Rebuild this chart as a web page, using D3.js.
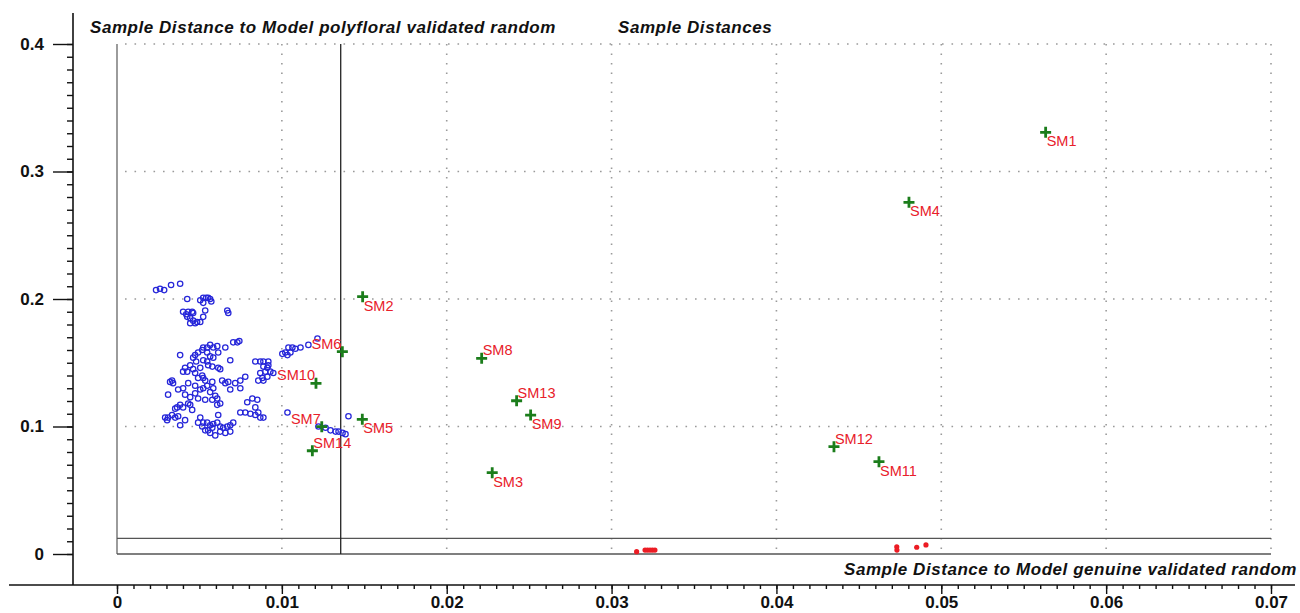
<!DOCTYPE html>
<html>
<head>
<meta charset="utf-8">
<script src="https://cdn.jsdelivr.net/npm/d3@7/dist/d3.min.js"></script>
<style>
  body { margin: 0; background: #fff; }
  svg { display: block; font-family: "Liberation Sans", Arial, sans-serif; }
</style>
</head>
<body>
<svg id="chart" width="1300" height="613"></svg>
<script>
// tick labels
const xTicks = [0, 0.01, 0.02, 0.03, 0.04, 0.05, 0.06, 0.07];
const yTicks = [0, 0.1, 0.2, 0.3, 0.4];

// critical distances of the two models
const polyfloralLimit = 0.01357;
const genuineLimit = 0.0122;

// polyfloral validation samples (open blue circles)
const polyX = [
  0.00237, 0.00261, 0.00286, 0.00328, 0.00383, 0.00426, 0.00505, 0.00523, 0.00541, 0.00553,
  0.00565, 0.00523, 0.00572, 0.00401, 0.00420, 0.00432, 0.00456, 0.00462, 0.00426, 0.00444,
  0.00462, 0.00486, 0.00444, 0.00474, 0.00505, 0.00523, 0.00535, 0.00669, 0.00675, 0.00730,
  0.00742, 0.00657, 0.00608, 0.00584, 0.00565, 0.00547, 0.00523, 0.00517, 0.00492, 0.00474,
  0.00462, 0.00547, 0.00565, 0.00584, 0.00614, 0.00523, 0.00547, 0.00553, 0.00578, 0.00614,
  0.00413, 0.00462, 0.00505, 0.00839, 0.00401, 0.00426, 0.00474, 0.00517, 0.00492, 0.00523,
  0.00626, 0.00322, 0.00340, 0.00334, 0.00401, 0.00310, 0.00413, 0.00444, 0.00474, 0.00505,
  0.00523, 0.00547, 0.00578, 0.00584, 0.00565, 0.00596, 0.00608, 0.00638, 0.00657, 0.00675,
  0.00687, 0.00717, 0.00748, 0.00778, 0.00626, 0.00608, 0.00578, 0.00365, 0.00383, 0.00401,
  0.00432, 0.00444, 0.00353, 0.00292, 0.00310, 0.00334, 0.00353, 0.00371, 0.00304, 0.00505,
  0.00523, 0.00547, 0.00565, 0.00584, 0.00608, 0.00626, 0.00644, 0.00669, 0.00687, 0.00705,
  0.00614, 0.00492, 0.00517, 0.00535, 0.00553, 0.00578, 0.00626, 0.00657, 0.00565, 0.00748,
  0.00778, 0.00809, 0.00839, 0.00790, 0.00821, 0.00851, 0.00839, 0.01216, 0.01003, 0.01021,
  0.01040, 0.01064, 0.01082, 0.01113, 0.01161, 0.01034, 0.01052, 0.00869, 0.00888, 0.00918,
  0.00888, 0.00912, 0.00930, 0.00900, 0.00869, 0.00882, 0.00857, 0.00888, 0.00912, 0.00948,
  0.00918, 0.00857, 0.00888, 0.00869, 0.01034, 0.01222, 0.01265, 0.01295, 0.01326, 0.01344,
  0.01368, 0.01386, 0.01404, 0.00705, 0.00480, 0.00444, 0.00535, 0.00474, 0.00432, 0.00492,
  0.00535, 0.00456, 0.00413, 0.00383, 0.00596, 0.00687, 0.00383, 0.00687, 0.00748, 0.00371
];
const polyY = [
  0.207, 0.208, 0.207, 0.211, 0.212, 0.200, 0.199, 0.201, 0.201, 0.201,
  0.200, 0.197, 0.198, 0.190, 0.188, 0.190, 0.190, 0.189, 0.186, 0.185,
  0.183, 0.182, 0.181, 0.181, 0.182, 0.186, 0.191, 0.191, 0.189, 0.166,
  0.167, 0.162, 0.163, 0.162, 0.164, 0.162, 0.162, 0.160, 0.158, 0.156,
  0.154, 0.158, 0.155, 0.154, 0.158, 0.152, 0.151, 0.148, 0.147, 0.146,
  0.146, 0.145, 0.146, 0.151, 0.143, 0.143, 0.142, 0.140, 0.138, 0.138,
  0.145, 0.135, 0.134, 0.136, 0.130, 0.125, 0.125, 0.123, 0.126, 0.129,
  0.130, 0.132, 0.135, 0.130, 0.127, 0.124, 0.122, 0.136, 0.134, 0.135,
  0.129, 0.134, 0.136, 0.139, 0.118, 0.117, 0.121, 0.115, 0.117, 0.115,
  0.118, 0.117, 0.114, 0.107, 0.107, 0.109, 0.107, 0.108, 0.105, 0.107,
  0.103, 0.103, 0.101, 0.102, 0.103, 0.100, 0.099, 0.100, 0.101, 0.103,
  0.109, 0.103, 0.100, 0.097, 0.097, 0.099, 0.096, 0.095, 0.095, 0.111,
  0.111, 0.110, 0.109, 0.119, 0.122, 0.121, 0.115, 0.169, 0.157, 0.158,
  0.162, 0.162, 0.161, 0.162, 0.164, 0.156, 0.158, 0.151, 0.151, 0.151,
  0.147, 0.146, 0.143, 0.143, 0.142, 0.138, 0.136, 0.136, 0.139, 0.142,
  0.148, 0.111, 0.107, 0.107, 0.111, 0.100, 0.099, 0.097, 0.096, 0.096,
  0.095, 0.094, 0.108, 0.166, 0.151, 0.148, 0.136, 0.132, 0.134, 0.122,
  0.121, 0.113, 0.105, 0.101, 0.093, 0.096, 0.156, 0.152, 0.130, 0.129
];

// genuine validation samples (red dots)
const genuineX = [0.03152, 0.03203, 0.03218, 0.03233, 0.03248, 0.03263, 0.04730, 0.04731, 0.04851, 0.04907];
const genuineY = [0.0018, 0.0031, 0.0031, 0.0031, 0.0031, 0.0031, 0.0057, 0.0031, 0.0053, 0.0071];

// market samples (green crosses)
const sampleNames = ['SM1', 'SM2', 'SM3', 'SM4', 'SM5', 'SM6', 'SM7', 'SM8', 'SM9', 'SM10', 'SM11', 'SM12', 'SM13', 'SM14'];
const sampleX = [0.05633, 0.01490, 0.02276, 0.04804, 0.01488, 0.01367, 0.01242, 0.02212, 0.02509, 0.01207, 0.04622, 0.04349, 0.02424, 0.01185];
const sampleY = [0.3307, 0.2018, 0.0638, 0.2758, 0.1056, 0.1587, 0.0999, 0.1535, 0.1090, 0.1339, 0.0724, 0.0842, 0.1202, 0.0810];

// where each label sits relative to its cross
const labelSide = { SM6: 'tl', SM10: 'tl', SM7: 'tl', SM8: 'tr', SM13: 'tr', SM14: 'tr', SM12: 'tr' };

const svg = d3.select('#chart');
const x = d3.scaleLinear().domain([0, 0.07]).range([117, 1271]);
const y = d3.scaleLinear().domain([0, 0.4]).range([554, 44]);

svg.append('rect').attr('width', 1300).attr('height', 613).attr('fill', '#fff');

// dotted grid
const grid = svg.append('g')
  .attr('stroke', '#9a9a9a')
  .attr('stroke-width', 1.6)
  .attr('stroke-dasharray', '1.6 7.9');
grid.selectAll('line.v')
  .data(xTicks.slice(1))
  .join('line')
  .attr('class', 'v')
  .attr('x1', (d) => x(d)).attr('x2', (d) => x(d))
  .attr('y1', y(0.4)).attr('y2', y(0));
grid.selectAll('line.h')
  .data(yTicks.slice(1))
  .join('line')
  .attr('class', 'h')
  .attr('x1', x(0) + 8).attr('x2', x(0.07))
  .attr('y1', (d) => y(d)).attr('y2', (d) => y(d));

// plot frame + model limits
const frame = svg.append('g').attr('fill', 'none').attr('stroke-width', 1.3);
frame.append('line')
  .attr('x1', x(0)).attr('x2', x(0)).attr('y1', y(0.4)).attr('y2', y(0))
  .attr('stroke', '#666');
frame.append('line')
  .attr('x1', x(0)).attr('x2', x(0.07)).attr('y1', y(0)).attr('y2', y(0))
  .attr('stroke', '#555');
frame.append('line')
  .attr('x1', x(0)).attr('x2', x(0.07)).attr('y1', y(genuineLimit)).attr('y2', y(genuineLimit))
  .attr('stroke', '#555');
frame.append('line')
  .attr('x1', x(polyfloralLimit)).attr('x2', x(polyfloralLimit)).attr('y1', y(0.4)).attr('y2', y(0))
  .attr('stroke', '#222');

// axes
const axisY = 585;
const axisX = 73;

const yMinor = d3.range(0, 41).map((i) => i / 100);
svg.append('g')
  .attr('transform', `translate(${axisX},0)`)
  .call(d3.axisLeft(y).tickValues(yMinor).tickSize(6).tickFormat(''))
  .call((g) => g.select('.domain').remove());
svg.append('g')
  .attr('class', 'y-axis')
  .attr('transform', `translate(${axisX},0)`)
  .call(d3.axisLeft(y).tickValues(yTicks).tickSize(20).tickPadding(9).tickFormat((d) => String(d)))
  .call((g) => g.select('.domain').remove());

const xMinor = d3.range(0, 71).map((i) => i / 1000);
svg.append('g')
  .attr('transform', `translate(0,${axisY})`)
  .call(d3.axisBottom(x).tickValues(xMinor).tickSize(4).tickFormat(''))
  .call((g) => g.select('.domain').remove());
svg.append('g')
  .attr('class', 'x-axis')
  .attr('transform', `translate(0,${axisY})`)
  .call(d3.axisBottom(x).tickValues(xTicks).tickSize(9).tickPadding(2).tickFormat((d) => String(d)))
  .call((g) => g.select('.domain').remove());

svg.selectAll('.tick line').attr('stroke', '#111').attr('stroke-width', 1.4);
svg.selectAll('.x-axis text, .y-axis text')
  .attr('fill', '#111')
  .style('font-size', '17px')
  .style('font-weight', 'bold')
  .style('font-family', '"Liberation Sans", Arial, sans-serif');

svg.append('line')
  .attr('x1', axisX).attr('x2', axisX).attr('y1', 13).attr('y2', axisY)
  .attr('stroke', '#111').attr('stroke-width', 1.6);
svg.append('line')
  .attr('x1', 9).attr('x2', 1295).attr('y1', axisY).attr('y2', axisY)
  .attr('stroke', '#111').attr('stroke-width', 1.6);

// titles
const titles = svg.append('g')
  .attr('fill', '#111')
  .style('font-size', '17px')
  .style('font-weight', 'bold')
  .style('font-style', 'italic')
  .style('letter-spacing', '0.55px');
titles.append('text').attr('x', 90).attr('y', 33)
  .text('Sample Distance to Model polyfloral validated random');
titles.append('text').attr('x', 618).attr('y', 33)
  .text('Sample Distances');
titles.append('text').attr('x', 1297).attr('y', 575).attr('text-anchor', 'end')
  .text('Sample Distance to Model genuine validated random');

// polyfloral circles
svg.append('g')
  .selectAll('circle')
  .data(d3.zip(polyX, polyY))
  .join('circle')
  .attr('cx', (d) => x(d[0]))
  .attr('cy', (d) => y(d[1]))
  .attr('r', 2.7)
  .attr('fill', 'none')
  .attr('stroke', '#2626d9')
  .attr('stroke-width', 1.25);

// genuine dots
svg.append('g')
  .selectAll('circle')
  .data(d3.zip(genuineX, genuineY))
  .join('circle')
  .attr('cx', (d) => x(d[0]))
  .attr('cy', (d) => y(d[1]))
  .attr('r', 2.6)
  .attr('fill', '#ec1c24');

// market samples
const samples = sampleNames.map((name, i) => ({ name, x: sampleX[i], y: sampleY[i] }));
const sm = svg.append('g');
sm.selectAll('path')
  .data(samples)
  .join('path')
  .attr('d', (d) => `M${x(d.x) - 5.5},${y(d.y)}H${x(d.x) + 5.5}M${x(d.x)},${y(d.y) - 5.5}V${y(d.y) + 5.5}`)
  .attr('stroke', '#1b7d1b')
  .attr('stroke-width', 2.8)
  .attr('fill', 'none');
sm.selectAll('text')
  .data(samples)
  .join('text')
  .attr('x', (d) => {
    const side = labelSide[d.name] || 'br';
    return side === 'tl' ? x(d.x) - 1 : x(d.x) + 1;
  })
  .attr('y', (d) => {
    const side = labelSide[d.name] || 'br';
    return side === 'br' ? y(d.y) + 14 : y(d.y) - 3;
  })
  .attr('text-anchor', (d) => (labelSide[d.name] === 'tl' ? 'end' : 'start'))
  .attr('fill', '#e8202a')
  .style('font-size', '14.5px')
  .text((d) => d.name);
</script>
</body>
</html>
